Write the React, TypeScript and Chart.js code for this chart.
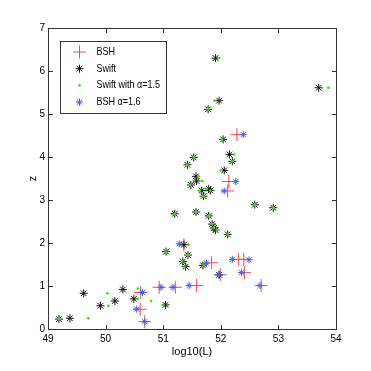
import React, { useEffect, useRef, useState } from 'react';
import { Chart, registerables } from 'chart.js';

Chart.register(...registerables);

// ---- data ----
const bshX = [50.61, 50.60, 50.68, 50.93, 51.21, 51.36, 51.58, 51.84, 51.99, 52.14, 52.12, 52.28, 52.31, 52.40, 52.41, 52.70];
const bshZ = [0.85, 0.46, 0.17, 0.97, 0.97, 1.96, 1.01, 1.54, 1.26, 3.43, 3.21, 4.52, 1.62, 1.62, 1.31, 1.01];

const swiftX = [49.19, 49.38, 49.62, 49.91, 50.16, 50.30, 50.49, 51.04, 51.05, 51.20, 51.36, 51.34, 51.39, 51.43, 51.42, 51.53, 51.48, 51.57, 51.58, 51.57, 51.67, 51.70, 51.69, 51.78, 51.79, 51.82, 51.79, 51.85, 51.88, 51.91, 51.91, 51.97, 51.97, 52.04, 52.06, 52.12, 52.15, 52.20, 52.59, 52.91, 53.70];
const swiftZ = [0.23, 0.25, 0.83, 0.54, 0.65, 0.92, 0.70, 0.56, 1.80, 2.68, 1.96, 1.57, 1.45, 1.72, 3.82, 3.99, 3.35, 3.55, 3.44, 2.72, 3.22, 3.09, 1.48, 5.11, 3.26, 3.22, 2.63, 2.44, 2.35, 2.30, 6.30, 5.31, 1.26, 4.41, 3.69, 2.20, 4.06, 3.90, 2.89, 2.82, 5.61];

const swiftAX = [49.19, 49.70, 50.03, 50.05, 50.56, 50.56, 50.79, 51.00, 51.05, 51.20, 51.43, 51.33, 51.37, 51.43, 51.42, 51.53, 51.47, 51.61, 51.68, 51.57, 51.63, 51.70, 51.70, 51.78, 51.76, 51.82, 51.79, 51.85, 51.88, 51.93, 51.97, 51.89, 51.92, 52.02, 52.00, 52.12, 52.23, 52.20, 52.59, 52.91, 53.87];
const swiftAZ = [0.23, 0.25, 0.83, 0.54, 0.94, 0.70, 0.65, 0.56, 1.80, 2.68, 1.96, 1.57, 1.45, 1.72, 3.82, 3.99, 3.35, 3.55, 3.44, 2.72, 3.22, 3.09, 1.48, 5.11, 3.26, 3.22, 2.63, 2.44, 2.35, 2.30, 6.30, 5.31, 1.26, 4.41, 3.69, 2.20, 4.06, 3.90, 2.89, 2.82, 5.61];

const bshAX = [50.64, 50.54, 50.68, 50.96, 51.17, 51.28, 51.45, 51.75, 51.97, 52.26, 52.06, 52.39, 52.20, 52.49, 52.36, 52.68];
const bshAZ = [0.85, 0.46, 0.17, 0.97, 0.97, 1.98, 1.01, 1.53, 1.26, 3.43, 3.21, 4.52, 1.62, 1.61, 1.31, 1.01];

const seriesNames = ['BSH', 'Swift', 'Swift with \u03b1=1.5', 'BSH \u03b1=1.6'];
const xTicks = [49, 50, 51, 52, 53, 54];
const yTicks = [0, 1, 2, 3, 4, 5, 6, 7];
const xTitle = 'log10(L)';
const yTitle = 'z';

const FONT = "'Liberation Sans', Arial, Helvetica, sans-serif";

const RED = 'rgb(255,70,70)';
const BLACK = '#111111';
const GREEN = 'rgb(60,230,0)';
const BLUE = 'rgb(60,90,255)';
const AXIS = '#333333';

const pts = (xs: number[], ys: number[]) => xs.map((x, i) => ({ x, y: ys[i] }));

function drawMarker(ctx: CanvasRenderingContext2D, kind: string, x: number, y: number) {
  ctx.save();
  ctx.lineWidth = 1;
  if (kind === 'cross') {
    ctx.strokeStyle = RED;
    ctx.beginPath();
    ctx.moveTo(x - 6.5, y); ctx.lineTo(x + 6.5, y);
    ctx.moveTo(x, y - 6.5); ctx.lineTo(x, y + 6.5);
    ctx.stroke();
  } else if (kind === 'star' || kind === 'bstar') {
    const r = kind === 'star' ? 4 : 3.5;
    ctx.strokeStyle = kind === 'star' ? BLACK : BLUE;
    ctx.beginPath();
    for (let k = 0; k < 4; k++) {
      const a = (k * Math.PI) / 4;
      ctx.moveTo(x - r * Math.cos(a), y - r * Math.sin(a));
      ctx.lineTo(x + r * Math.cos(a), y + r * Math.sin(a));
    }
    ctx.stroke();
  } else {
    ctx.fillStyle = GREEN;
    ctx.beginPath();
    ctx.arc(x, y, 1.4, 0, Math.PI * 2);
    ctx.fill();
  }
  ctx.restore();
}

const framePlugin = {
  id: 'matlabFrame',
  afterDraw(chart: any) {
    const ctx: CanvasRenderingContext2D = chart.ctx;
    const sx = chart.scales.x;
    const sy = chart.scales.y;
    const L = sx.getPixelForValue(49);
    const R = sx.getPixelForValue(54);
    const B = sy.getPixelForValue(0);
    const T = sy.getPixelForValue(7);
    ctx.save();
    ctx.strokeStyle = AXIS;
    ctx.lineWidth = 1;
    ctx.strokeRect(L + 0.5, T + 0.5, R - L, B - T);

    // legend
    const lx = L + 12.5;
    const ly = T + 13.5;
    const lw = 106, lh = 72;
    ctx.fillStyle = '#ffffff';
    ctx.fillRect(lx, ly, lw, lh);
    ctx.strokeStyle = AXIS;
    ctx.lineWidth = 1;
    ctx.strokeRect(lx, ly, lw, lh);
    const kinds = ['cross', 'star', 'dot', 'bstar'];
    for (let i = 0; i < seriesNames.length; i++) {
      const yy = ly + 10.5 + i * 16.7;
      drawMarker(ctx, kinds[i], lx + 19, yy);
      ctx.save();
      ctx.translate(lx + 36, yy);
      ctx.scale(0.82, 1);
      ctx.font = `11px ${FONT}`;
      ctx.fillStyle = '#000000';
      ctx.textBaseline = 'middle';
      ctx.textAlign = 'left';
      ctx.fillText(seriesNames[i], 0, 0);
      ctx.restore();
    }
    ctx.restore();
  },
};

type Frame = { L: number; R: number; T: number; B: number; xs: number[]; ys: number[] };

export default function App() {
  const ref = useRef<HTMLCanvasElement>(null);
  const [frame, setFrame] = useState<Frame | null>(null);
  useEffect(() => {
    document.body.style.margin = '0';
    const canvas = ref.current;
    if (!canvas) return;
    const chart = new Chart(canvas, {
      type: 'scatter',
      data: {
        datasets: [
          {
            label: seriesNames[0], data: pts(bshX, bshZ), order: 3,
            pointStyle: 'cross', pointRadius: 6.5, borderColor: RED, backgroundColor: RED, borderWidth: 1,
          },
          {
            label: seriesNames[1], data: pts(swiftX, swiftZ), order: 2,
            pointStyle: 'star', pointRadius: 4, borderColor: BLACK, backgroundColor: BLACK, borderWidth: 1,
          },
          {
            label: seriesNames[2], data: pts(swiftAX, swiftAZ), order: 1,
            pointStyle: 'circle', pointRadius: 1.4, borderColor: GREEN, backgroundColor: GREEN, borderWidth: 0,
          },
          {
            label: seriesNames[3], data: pts(bshAX, bshAZ), order: 0,
            pointStyle: 'star', pointRadius: 3.5, borderColor: BLUE, backgroundColor: BLUE, borderWidth: 1,
          },
        ],
      },
      options: {
        responsive: false,
        animation: false,
        devicePixelRatio: 1,
        layout: { padding: { top: 28, right: 35, left: 0, bottom: 0 } },
        plugins: { legend: { display: false }, tooltip: { enabled: false } },
        scales: {
          x: {
            type: 'linear', min: 49, max: 54,
            afterBuildTicks: (s: any) => { s.ticks = xTicks.map((v) => ({ value: v })); },
            afterFit: (s: any) => { s.height = 42; },
            grid: { display: false, drawTicks: false, tickLength: 0 },
            border: { display: false },
            ticks: { color: '#000', font: { size: 10, family: FONT }, padding: 4, maxRotation: 0 },
            title: { display: true, text: xTitle, color: '#000', font: { size: 11, family: FONT }, padding: { top: 0, bottom: 12 } },
          },
          y: {
            type: 'linear', min: 0, max: 7,
            afterBuildTicks: (s: any) => { s.ticks = yTicks.map((v) => ({ value: v })); },
            afterFit: (s: any) => { s.width = 48; },
            grid: { display: false, drawTicks: false, tickLength: 0 },
            border: { display: false },
            ticks: { color: '#000', font: { size: 10, family: FONT }, padding: 3 },
            title: { display: true, text: yTitle, color: '#000', font: { size: 11, family: FONT }, padding: { top: 26, bottom: 0 } },
          },
        },
      },
      plugins: [framePlugin],
    } as any);
    const sx: any = chart.scales.x;
    const sy: any = chart.scales.y;
    setFrame({
      L: Math.round(sx.getPixelForValue(xTicks[0])),
      R: Math.round(sx.getPixelForValue(xTicks[xTicks.length - 1])),
      B: Math.round(sy.getPixelForValue(yTicks[0])),
      T: Math.round(sy.getPixelForValue(yTicks[yTicks.length - 1])),
      xs: xTicks.map((v) => Math.round(sx.getPixelForValue(v))),
      ys: yTicks.map((v) => Math.round(sy.getPixelForValue(v))),
    });
    return () => chart.destroy();
  }, []);

  const tick = (left: number, top: number, w: number, h: number, key: string) => (
    <div key={key} style={{ position: 'absolute', left, top, width: w, height: h, background: AXIS }} />
  );

  return (
    <div style={{ position: 'fixed', left: 0, top: 0, width: 371, height: 371, background: '#fff' }}>
      <canvas ref={ref} width={371} height={371} style={{ display: 'block', width: 371, height: 371 }} />
      {frame && (
        <div style={{ position: 'absolute', left: 0, top: 0, width: 371, height: 371, pointerEvents: 'none' }}>
          <div
            style={{
              position: 'absolute', left: frame.L, top: frame.T,
              width: frame.R - frame.L + 1, height: frame.B - frame.T + 1,
              border: `1px solid ${AXIS}`, boxSizing: 'border-box',
            }}
          />
          {frame.xs.map((px, i) => tick(px, frame.B - 4, 1, 4, `xb${i}`))}
          {frame.xs.map((px, i) => tick(px, frame.T + 1, 1, 4, `xt${i}`))}
          {frame.ys.map((py, i) => tick(frame.L + 1, py, 4, 1, `yl${i}`))}
          {frame.ys.map((py, i) => tick(frame.R - 4, py, 4, 1, `yr${i}`))}
        </div>
      )}
    </div>
  );
}
